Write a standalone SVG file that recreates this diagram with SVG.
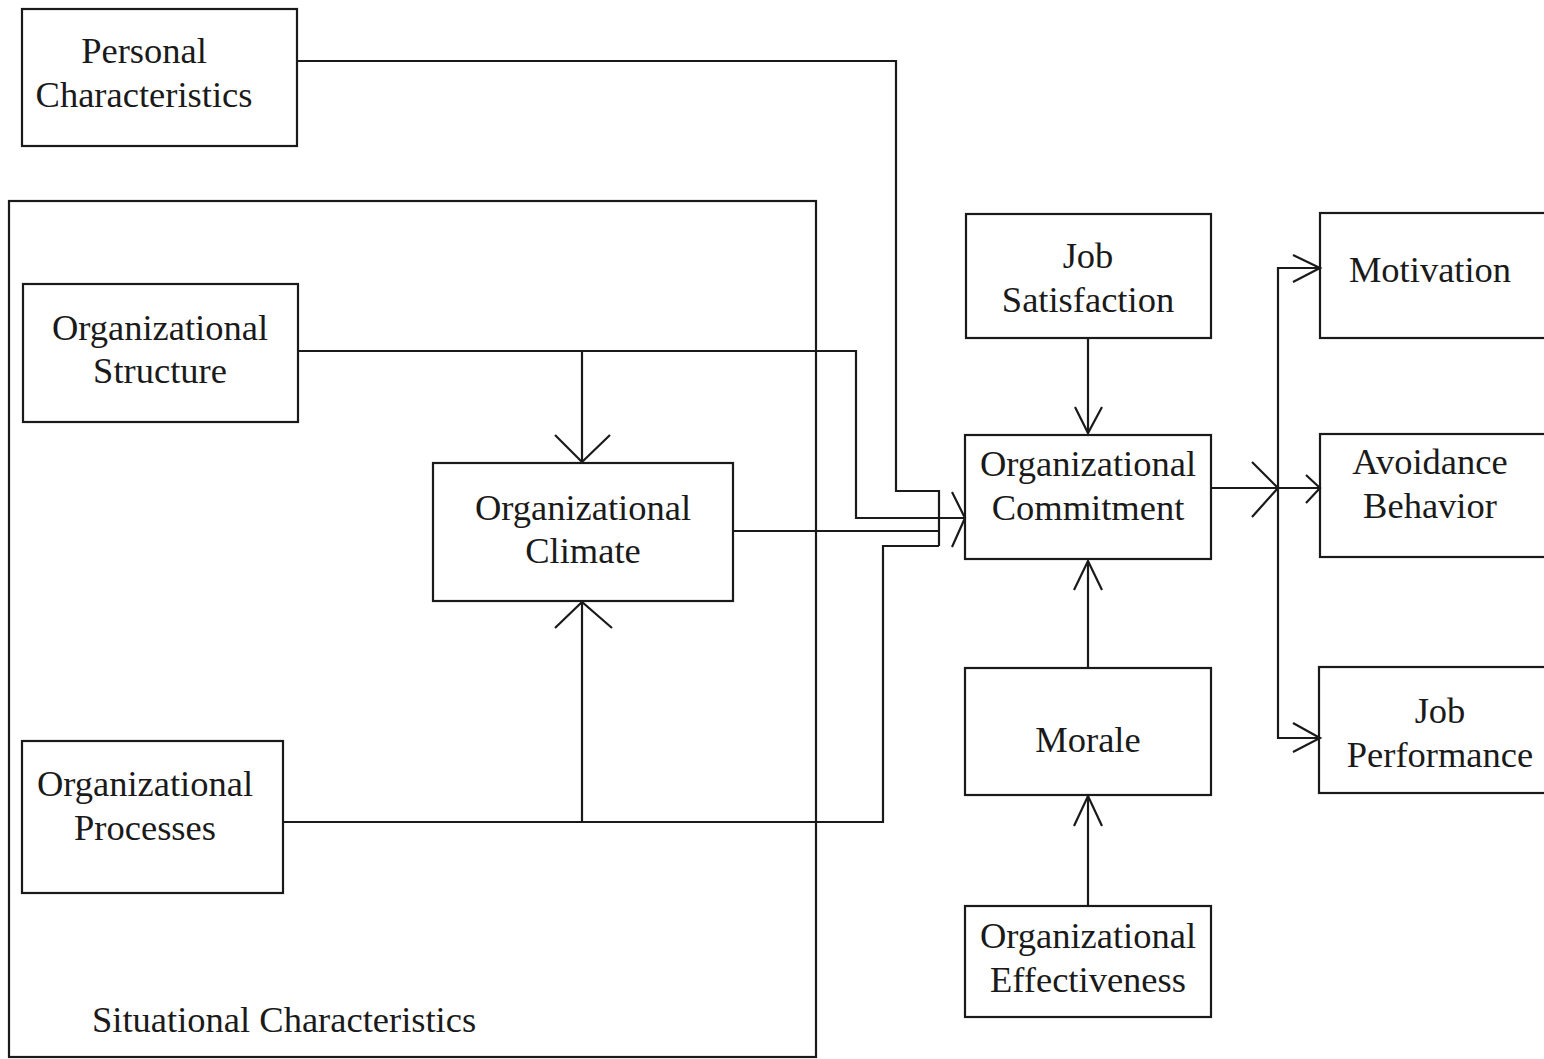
<svg xmlns="http://www.w3.org/2000/svg" width="1544" height="1059" viewBox="0 0 1544 1059">
<style>
.box{fill:none;stroke:#1a1a1a;stroke-width:2.2}
.ln{fill:none;stroke:#1a1a1a;stroke-width:2.2}
text{font-family:"Liberation Serif","Times New Roman",serif;font-size:36.5px;fill:#1a1a1a;text-anchor:middle}
</style>
<rect width="1544" height="1059" fill="#fff"/>
<g id="situational">
<rect class="box" x="9" y="201" width="807" height="856"/>
<text x="92" y="1032" style="text-anchor:start">Situational Characteristics</text>
</g>
<g id="personal">
<rect class="box" x="22" y="9" width="275" height="137"/>
<text x="144" y="63">Personal</text><text x="144" y="107">Characteristics</text>
</g>
<g id="structure">
<rect class="box" x="23" y="284" width="275" height="138"/>
<text x="160" y="340">Organizational</text><text x="160" y="383">Structure</text>
</g>
<g id="climate">
<rect class="box" x="433" y="463" width="300" height="138"/>
<text x="583" y="520">Organizational</text><text x="583" y="563">Climate</text>
</g>
<g id="processes">
<rect class="box" x="22" y="741" width="261" height="152"/>
<text x="145" y="796">Organizational</text><text x="145" y="840">Processes</text>
</g>
<g id="satisfaction">
<rect class="box" x="966" y="214" width="245" height="124"/>
<text x="1088" y="268">Job</text><text x="1088" y="312">Satisfaction</text>
</g>
<g id="commitment">
<rect class="box" x="965" y="435" width="246" height="124"/>
<text x="1088" y="476">Organizational</text><text x="1088" y="520">Commitment</text>
</g>
<g id="morale">
<rect class="box" x="965" y="668" width="246" height="127"/>
<text x="1088" y="752">Morale</text>
</g>
<g id="effectiveness">
<rect class="box" x="965" y="906" width="246" height="111"/>
<text x="1088" y="948">Organizational</text><text x="1088" y="992">Effectiveness</text>
</g>
<g id="motivation">
<rect class="box" x="1320" y="213" width="240" height="125"/>
<text x="1430" y="282">Motivation</text>
</g>
<g id="avoidance">
<rect class="box" x="1320" y="434" width="240" height="123"/>
<text x="1430" y="474">Avoidance</text><text x="1430" y="518">Behavior</text>
</g>
<g id="performance">
<rect class="box" x="1319" y="667" width="240" height="126"/>
<text x="1440" y="723">Job</text><text x="1440" y="767">Performance</text>
</g>
<g id="connectors">
<polyline class="ln" points="297,61 896,61 896,491 939,491 939,546"/>
<polyline class="ln" points="298,351 856,351 856,518 965,518"/>
<polyline class="ln" points="952,492 965,518 952,547"/>
<line class="ln" x1="582" y1="351" x2="582" y2="462"/>
<polyline class="ln" points="555,435 582,462 610,435"/>
<line class="ln" x1="733" y1="531" x2="939" y2="531"/>
<polyline class="ln" points="283,822 883,822 883,546 939,546"/>
<line class="ln" x1="582" y1="822" x2="582" y2="602"/>
<polyline class="ln" points="555,628 582,602 612,628"/>
<line class="ln" x1="1088" y1="338" x2="1088" y2="433"/>
<polyline class="ln" points="1075,407 1088,433 1102,407"/>
<line class="ln" x1="1088" y1="668" x2="1088" y2="561"/>
<polyline class="ln" points="1074,590 1088,561 1102,590"/>
<line class="ln" x1="1088" y1="906" x2="1088" y2="796"/>
<polyline class="ln" points="1074,826 1088,796 1102,826"/>
<line class="ln" x1="1211" y1="488" x2="1320" y2="488"/>
<polyline class="ln" points="1252,462 1278,488 1252,517"/>
<polyline class="ln" points="1306,475 1320,488 1306,503"/>
<polyline class="ln" points="1320,268 1278,268 1278,738 1320,738"/>
<polyline class="ln" points="1293,255 1320,268 1293,282"/>
<polyline class="ln" points="1293,723 1320,738 1293,752"/>
</g>
</svg>
